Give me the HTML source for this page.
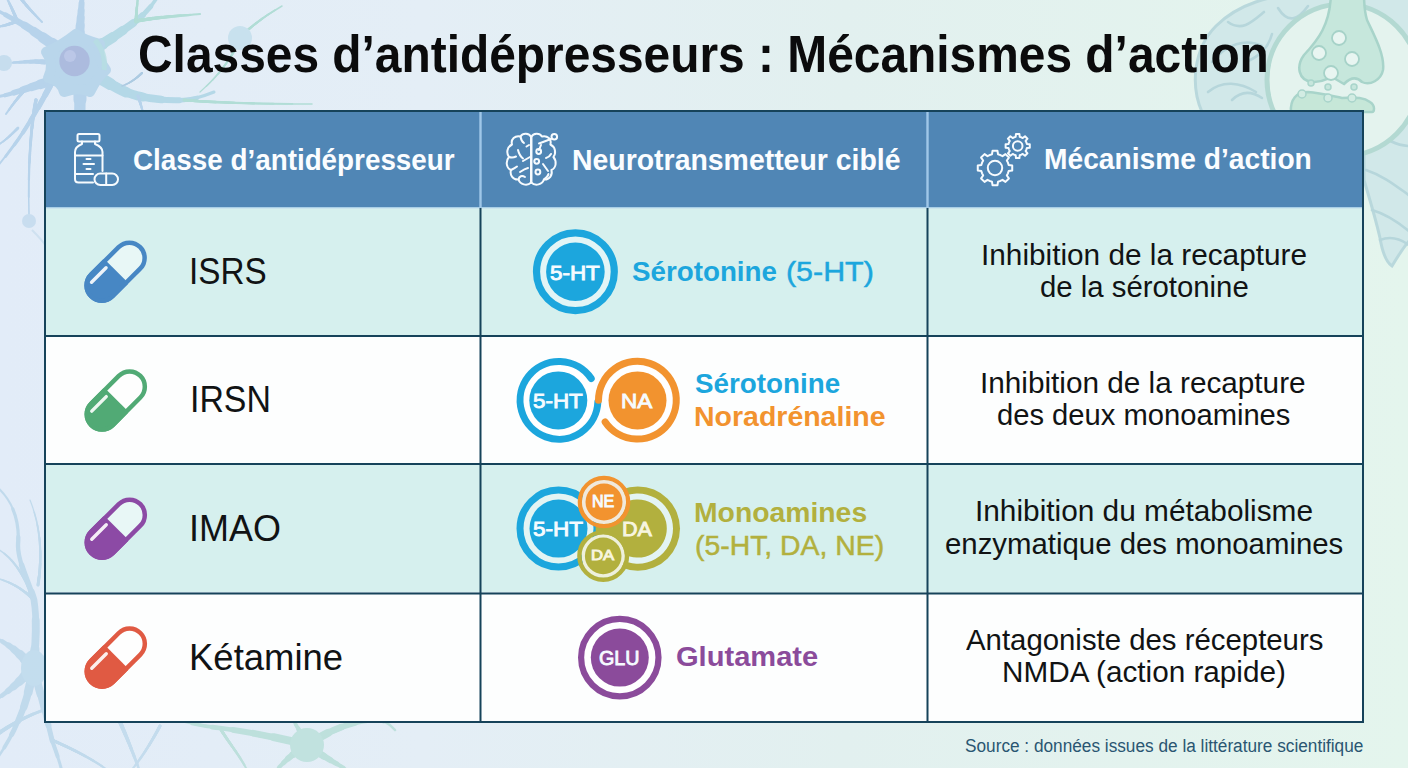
<!DOCTYPE html>
<html><head><meta charset="utf-8">
<style>
html,body{margin:0;padding:0;}
body{width:1408px;height:768px;position:relative;overflow:hidden;
 font-family:"Liberation Sans",sans-serif;
 background:linear-gradient(90deg,#e2ecf8 0%,#e4eef6 30%,#e2f0ef 60%,#e4f5ed 100%);}
.t{position:absolute;white-space:nowrap;line-height:1;transform-origin:0 0;}
.abs{position:absolute;}
</style></head><body>
<svg class="abs" style="left:0;top:0" width="1408" height="768" viewBox="0 0 1408 768">
  <g opacity="0.9"><g fill="none" stroke-linecap="round" stroke-linejoin="round"><path d="M79,45 C80,28 81,14 82,-4" pathLength="100" stroke="#b3d1ea" stroke-width="5.0" opacity="1.0"/><path d="M79,45 C80,28 81,14 82,-4" pathLength="100" stroke="#b3d1ea" stroke-width="6.0" stroke-dasharray="85.0 200" opacity="1.0"/><path d="M79,45 C80,28 81,14 82,-4" pathLength="100" stroke="#b3d1ea" stroke-width="7.0" stroke-dasharray="70.0 200" opacity="1.0"/><path d="M79,45 C80,28 81,14 82,-4" pathLength="100" stroke="#b3d1ea" stroke-width="8.0" stroke-dasharray="55.0 200" opacity="1.0"/><path d="M79,45 C80,28 81,14 82,-4" pathLength="100" stroke="#b3d1ea" stroke-width="9.0" stroke-dasharray="40.0 200" opacity="1.0"/><path d="M79,45 C80,28 81,14 82,-4" pathLength="100" stroke="#b3d1ea" stroke-width="10.0" stroke-dasharray="25.0 200" opacity="1.0"/><path d="M79,45 C80,28 81,14 82,-4" pathLength="100" stroke="#b3d1ea" stroke-width="11.0" stroke-dasharray="10.0 200" opacity="1.0"/><path d="M58,48 C42,37 28,27 17,21 C9,17 3,13 -4,10" pathLength="100" stroke="#b3d1ea" stroke-width="3.5" opacity="1.0"/><path d="M58,48 C42,37 28,27 17,21 C9,17 3,13 -4,10" pathLength="100" stroke="#b3d1ea" stroke-width="4.9" stroke-dasharray="85.0 200" opacity="1.0"/><path d="M58,48 C42,37 28,27 17,21 C9,17 3,13 -4,10" pathLength="100" stroke="#b3d1ea" stroke-width="6.3" stroke-dasharray="70.0 200" opacity="1.0"/><path d="M58,48 C42,37 28,27 17,21 C9,17 3,13 -4,10" pathLength="100" stroke="#b3d1ea" stroke-width="7.8" stroke-dasharray="55.0 200" opacity="1.0"/><path d="M58,48 C42,37 28,27 17,21 C9,17 3,13 -4,10" pathLength="100" stroke="#b3d1ea" stroke-width="9.2" stroke-dasharray="40.0 200" opacity="1.0"/><path d="M58,48 C42,37 28,27 17,21 C9,17 3,13 -4,10" pathLength="100" stroke="#b3d1ea" stroke-width="10.6" stroke-dasharray="25.0 200" opacity="1.0"/><path d="M58,48 C42,37 28,27 17,21 C9,17 3,13 -4,10" pathLength="100" stroke="#b3d1ea" stroke-width="12.0" stroke-dasharray="10.0 200" opacity="1.0"/><path d="M17,21 C14,12 10,5 6,-4" pathLength="100" stroke="#b3d1ea" stroke-width="2.0" opacity="1.0"/><path d="M17,21 C14,12 10,5 6,-4" pathLength="100" stroke="#b3d1ea" stroke-width="2.2" stroke-dasharray="85.0 200" opacity="1.0"/><path d="M17,21 C14,12 10,5 6,-4" pathLength="100" stroke="#b3d1ea" stroke-width="2.5" stroke-dasharray="70.0 200" opacity="1.0"/><path d="M17,21 C14,12 10,5 6,-4" pathLength="100" stroke="#b3d1ea" stroke-width="2.8" stroke-dasharray="55.0 200" opacity="1.0"/><path d="M17,21 C14,12 10,5 6,-4" pathLength="100" stroke="#b3d1ea" stroke-width="3.0" stroke-dasharray="40.0 200" opacity="1.0"/><path d="M17,21 C14,12 10,5 6,-4" pathLength="100" stroke="#b3d1ea" stroke-width="3.2" stroke-dasharray="25.0 200" opacity="1.0"/><path d="M17,21 C14,12 10,5 6,-4" pathLength="100" stroke="#b3d1ea" stroke-width="3.5" stroke-dasharray="10.0 200" opacity="1.0"/><path d="M17,21 C10,24 5,26 -4,27" pathLength="100" stroke="#b3d1ea" stroke-width="2.0" opacity="1.0"/><path d="M17,21 C10,24 5,26 -4,27" pathLength="100" stroke="#b3d1ea" stroke-width="2.2" stroke-dasharray="85.0 200" opacity="1.0"/><path d="M17,21 C10,24 5,26 -4,27" pathLength="100" stroke="#b3d1ea" stroke-width="2.5" stroke-dasharray="70.0 200" opacity="1.0"/><path d="M17,21 C10,24 5,26 -4,27" pathLength="100" stroke="#b3d1ea" stroke-width="2.8" stroke-dasharray="55.0 200" opacity="1.0"/><path d="M17,21 C10,24 5,26 -4,27" pathLength="100" stroke="#b3d1ea" stroke-width="3.0" stroke-dasharray="40.0 200" opacity="1.0"/><path d="M17,21 C10,24 5,26 -4,27" pathLength="100" stroke="#b3d1ea" stroke-width="3.2" stroke-dasharray="25.0 200" opacity="1.0"/><path d="M17,21 C10,24 5,26 -4,27" pathLength="100" stroke="#b3d1ea" stroke-width="3.5" stroke-dasharray="10.0 200" opacity="1.0"/><path d="M22,0 C30,10 36,16 42,22" pathLength="100" stroke="#b3d1ea" stroke-width="2.0" opacity="1.0"/><path d="M22,0 C30,10 36,16 42,22" pathLength="100" stroke="#b3d1ea" stroke-width="2.2" stroke-dasharray="85.0 200" opacity="1.0"/><path d="M22,0 C30,10 36,16 42,22" pathLength="100" stroke="#b3d1ea" stroke-width="2.3" stroke-dasharray="70.0 200" opacity="1.0"/><path d="M22,0 C30,10 36,16 42,22" pathLength="100" stroke="#b3d1ea" stroke-width="2.5" stroke-dasharray="55.0 200" opacity="1.0"/><path d="M22,0 C30,10 36,16 42,22" pathLength="100" stroke="#b3d1ea" stroke-width="2.7" stroke-dasharray="40.0 200" opacity="1.0"/><path d="M22,0 C30,10 36,16 42,22" pathLength="100" stroke="#b3d1ea" stroke-width="2.8" stroke-dasharray="25.0 200" opacity="1.0"/><path d="M22,0 C30,10 36,16 42,22" pathLength="100" stroke="#b3d1ea" stroke-width="3.0" stroke-dasharray="10.0 200" opacity="1.0"/><path d="M95,48 C110,40 124,30 136,21 C146,13 152,6 158,-4" pathLength="100" stroke="#b0d8e4" stroke-width="3.5" opacity="1.0"/><path d="M95,48 C110,40 124,30 136,21 C146,13 152,6 158,-4" pathLength="100" stroke="#b0d8e4" stroke-width="4.9" stroke-dasharray="85.0 200" opacity="1.0"/><path d="M95,48 C110,40 124,30 136,21 C146,13 152,6 158,-4" pathLength="100" stroke="#b0d8e4" stroke-width="6.3" stroke-dasharray="70.0 200" opacity="1.0"/><path d="M95,48 C110,40 124,30 136,21 C146,13 152,6 158,-4" pathLength="100" stroke="#b0d8e4" stroke-width="7.8" stroke-dasharray="55.0 200" opacity="1.0"/><path d="M95,48 C110,40 124,30 136,21 C146,13 152,6 158,-4" pathLength="100" stroke="#b0d8e4" stroke-width="9.2" stroke-dasharray="40.0 200" opacity="1.0"/><path d="M95,48 C110,40 124,30 136,21 C146,13 152,6 158,-4" pathLength="100" stroke="#b0d8e4" stroke-width="10.6" stroke-dasharray="25.0 200" opacity="1.0"/><path d="M95,48 C110,40 124,30 136,21 C146,13 152,6 158,-4" pathLength="100" stroke="#b0d8e4" stroke-width="12.0" stroke-dasharray="10.0 200" opacity="1.0"/><path d="M136,21 C158,17 178,16 200,14" pathLength="100" stroke="#acdcd3" stroke-width="2.2" opacity="1.0"/><path d="M136,21 C158,17 178,16 200,14" pathLength="100" stroke="#acdcd3" stroke-width="2.4" stroke-dasharray="85.0 200" opacity="1.0"/><path d="M136,21 C158,17 178,16 200,14" pathLength="100" stroke="#acdcd3" stroke-width="2.6" stroke-dasharray="70.0 200" opacity="1.0"/><path d="M136,21 C158,17 178,16 200,14" pathLength="100" stroke="#acdcd3" stroke-width="2.9" stroke-dasharray="55.0 200" opacity="1.0"/><path d="M136,21 C158,17 178,16 200,14" pathLength="100" stroke="#acdcd3" stroke-width="3.1" stroke-dasharray="40.0 200" opacity="1.0"/><path d="M136,21 C158,17 178,16 200,14" pathLength="100" stroke="#acdcd3" stroke-width="3.3" stroke-dasharray="25.0 200" opacity="1.0"/><path d="M136,21 C158,17 178,16 200,14" pathLength="100" stroke="#acdcd3" stroke-width="3.5" stroke-dasharray="10.0 200" opacity="1.0"/><path d="M136,22 C136,14 137,7 138,-4" pathLength="100" stroke="#acdcd3" stroke-width="2.0" opacity="1.0"/><path d="M136,22 C136,14 137,7 138,-4" pathLength="100" stroke="#acdcd3" stroke-width="2.2" stroke-dasharray="85.0 200" opacity="1.0"/><path d="M136,22 C136,14 137,7 138,-4" pathLength="100" stroke="#acdcd3" stroke-width="2.3" stroke-dasharray="70.0 200" opacity="1.0"/><path d="M136,22 C136,14 137,7 138,-4" pathLength="100" stroke="#acdcd3" stroke-width="2.5" stroke-dasharray="55.0 200" opacity="1.0"/><path d="M136,22 C136,14 137,7 138,-4" pathLength="100" stroke="#acdcd3" stroke-width="2.7" stroke-dasharray="40.0 200" opacity="1.0"/><path d="M136,22 C136,14 137,7 138,-4" pathLength="100" stroke="#acdcd3" stroke-width="2.8" stroke-dasharray="25.0 200" opacity="1.0"/><path d="M136,22 C136,14 137,7 138,-4" pathLength="100" stroke="#acdcd3" stroke-width="3.0" stroke-dasharray="10.0 200" opacity="1.0"/><path d="M100,78 C112,85 124,93 138,96 C152,99 168,101 184,100 C196,99 204,96 214,92" pathLength="100" stroke="#b0d6e6" stroke-width="3.0" opacity="1.0"/><path d="M100,78 C112,85 124,93 138,96 C152,99 168,101 184,100 C196,99 204,96 214,92" pathLength="100" stroke="#b0d6e6" stroke-width="4.5" stroke-dasharray="85.0 200" opacity="1.0"/><path d="M100,78 C112,85 124,93 138,96 C152,99 168,101 184,100 C196,99 204,96 214,92" pathLength="100" stroke="#b0d6e6" stroke-width="6.0" stroke-dasharray="70.0 200" opacity="1.0"/><path d="M100,78 C112,85 124,93 138,96 C152,99 168,101 184,100 C196,99 204,96 214,92" pathLength="100" stroke="#b0d6e6" stroke-width="7.5" stroke-dasharray="55.0 200" opacity="1.0"/><path d="M100,78 C112,85 124,93 138,96 C152,99 168,101 184,100 C196,99 204,96 214,92" pathLength="100" stroke="#b0d6e6" stroke-width="9.0" stroke-dasharray="40.0 200" opacity="1.0"/><path d="M100,78 C112,85 124,93 138,96 C152,99 168,101 184,100 C196,99 204,96 214,92" pathLength="100" stroke="#b0d6e6" stroke-width="10.5" stroke-dasharray="25.0 200" opacity="1.0"/><path d="M100,78 C112,85 124,93 138,96 C152,99 168,101 184,100 C196,99 204,96 214,92" pathLength="100" stroke="#b0d6e6" stroke-width="12.0" stroke-dasharray="10.0 200" opacity="1.0"/><path d="M184,100 C220,103 262,104 312,104" pathLength="100" stroke="#acdcd3" stroke-width="1.5" opacity="1.0"/><path d="M184,100 C220,103 262,104 312,104" pathLength="100" stroke="#acdcd3" stroke-width="1.7" stroke-dasharray="85.0 200" opacity="1.0"/><path d="M184,100 C220,103 262,104 312,104" pathLength="100" stroke="#acdcd3" stroke-width="1.9" stroke-dasharray="70.0 200" opacity="1.0"/><path d="M184,100 C220,103 262,104 312,104" pathLength="100" stroke="#acdcd3" stroke-width="2.1" stroke-dasharray="55.0 200" opacity="1.0"/><path d="M184,100 C220,103 262,104 312,104" pathLength="100" stroke="#acdcd3" stroke-width="2.4" stroke-dasharray="40.0 200" opacity="1.0"/><path d="M184,100 C220,103 262,104 312,104" pathLength="100" stroke="#acdcd3" stroke-width="2.6" stroke-dasharray="25.0 200" opacity="1.0"/><path d="M184,100 C220,103 262,104 312,104" pathLength="100" stroke="#acdcd3" stroke-width="2.8" stroke-dasharray="10.0 200" opacity="1.0"/><path d="M138,96 C140,101 141,106 143,112" pathLength="100" stroke="#b3d1ea" stroke-width="2.0" opacity="1.0"/><path d="M138,96 C140,101 141,106 143,112" pathLength="100" stroke="#b3d1ea" stroke-width="2.2" stroke-dasharray="85.0 200" opacity="1.0"/><path d="M138,96 C140,101 141,106 143,112" pathLength="100" stroke="#b3d1ea" stroke-width="2.3" stroke-dasharray="70.0 200" opacity="1.0"/><path d="M138,96 C140,101 141,106 143,112" pathLength="100" stroke="#b3d1ea" stroke-width="2.5" stroke-dasharray="55.0 200" opacity="1.0"/><path d="M138,96 C140,101 141,106 143,112" pathLength="100" stroke="#b3d1ea" stroke-width="2.7" stroke-dasharray="40.0 200" opacity="1.0"/><path d="M138,96 C140,101 141,106 143,112" pathLength="100" stroke="#b3d1ea" stroke-width="2.8" stroke-dasharray="25.0 200" opacity="1.0"/><path d="M138,96 C140,101 141,106 143,112" pathLength="100" stroke="#b3d1ea" stroke-width="3.0" stroke-dasharray="10.0 200" opacity="1.0"/><path d="M80,88 C80,102 80,116 79,132 C77,150 68,175 52,200" pathLength="100" stroke="#b3d1ea" stroke-width="3.0" opacity="1.0"/><path d="M80,88 C80,102 80,116 79,132 C77,150 68,175 52,200" pathLength="100" stroke="#b3d1ea" stroke-width="4.7" stroke-dasharray="85.0 200" opacity="1.0"/><path d="M80,88 C80,102 80,116 79,132 C77,150 68,175 52,200" pathLength="100" stroke="#b3d1ea" stroke-width="6.3" stroke-dasharray="70.0 200" opacity="1.0"/><path d="M80,88 C80,102 80,116 79,132 C77,150 68,175 52,200" pathLength="100" stroke="#b3d1ea" stroke-width="8.0" stroke-dasharray="55.0 200" opacity="1.0"/><path d="M80,88 C80,102 80,116 79,132 C77,150 68,175 52,200" pathLength="100" stroke="#b3d1ea" stroke-width="9.7" stroke-dasharray="40.0 200" opacity="1.0"/><path d="M80,88 C80,102 80,116 79,132 C77,150 68,175 52,200" pathLength="100" stroke="#b3d1ea" stroke-width="11.3" stroke-dasharray="25.0 200" opacity="1.0"/><path d="M80,88 C80,102 80,116 79,132 C77,150 68,175 52,200" pathLength="100" stroke="#b3d1ea" stroke-width="13.0" stroke-dasharray="10.0 200" opacity="1.0"/><path d="M55,80 C40,84 26,89 13,93 C7,95 2,96 -4,97" pathLength="100" stroke="#b3d1ea" stroke-width="3.0" opacity="1.0"/><path d="M55,80 C40,84 26,89 13,93 C7,95 2,96 -4,97" pathLength="100" stroke="#b3d1ea" stroke-width="4.3" stroke-dasharray="85.0 200" opacity="1.0"/><path d="M55,80 C40,84 26,89 13,93 C7,95 2,96 -4,97" pathLength="100" stroke="#b3d1ea" stroke-width="5.7" stroke-dasharray="70.0 200" opacity="1.0"/><path d="M55,80 C40,84 26,89 13,93 C7,95 2,96 -4,97" pathLength="100" stroke="#b3d1ea" stroke-width="7.0" stroke-dasharray="55.0 200" opacity="1.0"/><path d="M55,80 C40,84 26,89 13,93 C7,95 2,96 -4,97" pathLength="100" stroke="#b3d1ea" stroke-width="8.3" stroke-dasharray="40.0 200" opacity="1.0"/><path d="M55,80 C40,84 26,89 13,93 C7,95 2,96 -4,97" pathLength="100" stroke="#b3d1ea" stroke-width="9.7" stroke-dasharray="25.0 200" opacity="1.0"/><path d="M55,80 C40,84 26,89 13,93 C7,95 2,96 -4,97" pathLength="100" stroke="#b3d1ea" stroke-width="11.0" stroke-dasharray="10.0 200" opacity="1.0"/><path d="M26,89 C19,96 13,104 6,114" pathLength="100" stroke="#b3d1ea" stroke-width="2.0" opacity="1.0"/><path d="M26,89 C19,96 13,104 6,114" pathLength="100" stroke="#b3d1ea" stroke-width="2.2" stroke-dasharray="85.0 200" opacity="1.0"/><path d="M26,89 C19,96 13,104 6,114" pathLength="100" stroke="#b3d1ea" stroke-width="2.3" stroke-dasharray="70.0 200" opacity="1.0"/><path d="M26,89 C19,96 13,104 6,114" pathLength="100" stroke="#b3d1ea" stroke-width="2.5" stroke-dasharray="55.0 200" opacity="1.0"/><path d="M26,89 C19,96 13,104 6,114" pathLength="100" stroke="#b3d1ea" stroke-width="2.7" stroke-dasharray="40.0 200" opacity="1.0"/><path d="M26,89 C19,96 13,104 6,114" pathLength="100" stroke="#b3d1ea" stroke-width="2.8" stroke-dasharray="25.0 200" opacity="1.0"/><path d="M26,89 C19,96 13,104 6,114" pathLength="100" stroke="#b3d1ea" stroke-width="3.0" stroke-dasharray="10.0 200" opacity="1.0"/><path d="M45,62 C33,61 22,62 8,63" pathLength="100" stroke="#b3d1ea" stroke-width="2.0" opacity="1.0"/><path d="M45,62 C33,61 22,62 8,63" pathLength="100" stroke="#b3d1ea" stroke-width="2.5" stroke-dasharray="85.0 200" opacity="1.0"/><path d="M45,62 C33,61 22,62 8,63" pathLength="100" stroke="#b3d1ea" stroke-width="3.0" stroke-dasharray="70.0 200" opacity="1.0"/><path d="M45,62 C33,61 22,62 8,63" pathLength="100" stroke="#b3d1ea" stroke-width="3.5" stroke-dasharray="55.0 200" opacity="1.0"/><path d="M45,62 C33,61 22,62 8,63" pathLength="100" stroke="#b3d1ea" stroke-width="4.0" stroke-dasharray="40.0 200" opacity="1.0"/><path d="M45,62 C33,61 22,62 8,63" pathLength="100" stroke="#b3d1ea" stroke-width="4.5" stroke-dasharray="25.0 200" opacity="1.0"/><path d="M45,62 C33,61 22,62 8,63" pathLength="100" stroke="#b3d1ea" stroke-width="5.0" stroke-dasharray="10.0 200" opacity="1.0"/><path d="M142,73 C135,80 128,84 122,86" pathLength="100" stroke="#a8c8e0" stroke-width="1.5" opacity="1.0"/><path d="M142,73 C135,80 128,84 122,86" pathLength="100" stroke="#a8c8e0" stroke-width="1.6" stroke-dasharray="85.0 200" opacity="1.0"/><path d="M142,73 C135,80 128,84 122,86" pathLength="100" stroke="#a8c8e0" stroke-width="1.7" stroke-dasharray="70.0 200" opacity="1.0"/><path d="M142,73 C135,80 128,84 122,86" pathLength="100" stroke="#a8c8e0" stroke-width="1.8" stroke-dasharray="55.0 200" opacity="1.0"/><path d="M142,73 C135,80 128,84 122,86" pathLength="100" stroke="#a8c8e0" stroke-width="1.8" stroke-dasharray="40.0 200" opacity="1.0"/><path d="M142,73 C135,80 128,84 122,86" pathLength="100" stroke="#a8c8e0" stroke-width="1.9" stroke-dasharray="25.0 200" opacity="1.0"/><path d="M142,73 C135,80 128,84 122,86" pathLength="100" stroke="#a8c8e0" stroke-width="2.0" stroke-dasharray="10.0 200" opacity="1.0"/><path d="M50,86 C36,112 22,138 -4,168" pathLength="100" stroke="#b3d1ea" stroke-width="2.0" opacity="1.0"/><path d="M50,86 C36,112 22,138 -4,168" pathLength="100" stroke="#b3d1ea" stroke-width="2.7" stroke-dasharray="85.0 200" opacity="1.0"/><path d="M50,86 C36,112 22,138 -4,168" pathLength="100" stroke="#b3d1ea" stroke-width="3.3" stroke-dasharray="70.0 200" opacity="1.0"/><path d="M50,86 C36,112 22,138 -4,168" pathLength="100" stroke="#b3d1ea" stroke-width="4.0" stroke-dasharray="55.0 200" opacity="1.0"/><path d="M50,86 C36,112 22,138 -4,168" pathLength="100" stroke="#b3d1ea" stroke-width="4.7" stroke-dasharray="40.0 200" opacity="1.0"/><path d="M50,86 C36,112 22,138 -4,168" pathLength="100" stroke="#b3d1ea" stroke-width="5.3" stroke-dasharray="25.0 200" opacity="1.0"/><path d="M50,86 C36,112 22,138 -4,168" pathLength="100" stroke="#b3d1ea" stroke-width="6.0" stroke-dasharray="10.0 200" opacity="1.0"/><path d="M36,100 C30,130 28,175 29,214" pathLength="100" stroke="#b3d1ea" stroke-width="1.5" opacity="1.0"/><path d="M36,100 C30,130 28,175 29,214" pathLength="100" stroke="#b3d1ea" stroke-width="1.8" stroke-dasharray="85.0 200" opacity="1.0"/><path d="M36,100 C30,130 28,175 29,214" pathLength="100" stroke="#b3d1ea" stroke-width="2.2" stroke-dasharray="70.0 200" opacity="1.0"/><path d="M36,100 C30,130 28,175 29,214" pathLength="100" stroke="#b3d1ea" stroke-width="2.5" stroke-dasharray="55.0 200" opacity="1.0"/><path d="M36,100 C30,130 28,175 29,214" pathLength="100" stroke="#b3d1ea" stroke-width="2.8" stroke-dasharray="40.0 200" opacity="1.0"/><path d="M36,100 C30,130 28,175 29,214" pathLength="100" stroke="#b3d1ea" stroke-width="3.2" stroke-dasharray="25.0 200" opacity="1.0"/><path d="M36,100 C30,130 28,175 29,214" pathLength="100" stroke="#b3d1ea" stroke-width="3.5" stroke-dasharray="10.0 200" opacity="1.0"/><path d="M18,128 C10,136 4,142 -4,146" pathLength="100" stroke="#b3d1ea" stroke-width="1.5" opacity="1.0"/><path d="M18,128 C10,136 4,142 -4,146" pathLength="100" stroke="#b3d1ea" stroke-width="1.7" stroke-dasharray="85.0 200" opacity="1.0"/><path d="M18,128 C10,136 4,142 -4,146" pathLength="100" stroke="#b3d1ea" stroke-width="1.8" stroke-dasharray="70.0 200" opacity="1.0"/><path d="M18,128 C10,136 4,142 -4,146" pathLength="100" stroke="#b3d1ea" stroke-width="2.0" stroke-dasharray="55.0 200" opacity="1.0"/><path d="M18,128 C10,136 4,142 -4,146" pathLength="100" stroke="#b3d1ea" stroke-width="2.2" stroke-dasharray="40.0 200" opacity="1.0"/><path d="M18,128 C10,136 4,142 -4,146" pathLength="100" stroke="#b3d1ea" stroke-width="2.3" stroke-dasharray="25.0 200" opacity="1.0"/><path d="M18,128 C10,136 4,142 -4,146" pathLength="100" stroke="#b3d1ea" stroke-width="2.5" stroke-dasharray="10.0 200" opacity="1.0"/><path d="M241,36 C252,26 264,16 282,6" pathLength="100" stroke="#acdcd3" stroke-width="1.5" opacity="1.0"/><path d="M241,36 C252,26 264,16 282,6" pathLength="100" stroke="#acdcd3" stroke-width="1.7" stroke-dasharray="85.0 200" opacity="1.0"/><path d="M241,36 C252,26 264,16 282,6" pathLength="100" stroke="#acdcd3" stroke-width="1.8" stroke-dasharray="70.0 200" opacity="1.0"/><path d="M241,36 C252,26 264,16 282,6" pathLength="100" stroke="#acdcd3" stroke-width="2.0" stroke-dasharray="55.0 200" opacity="1.0"/><path d="M241,36 C252,26 264,16 282,6" pathLength="100" stroke="#acdcd3" stroke-width="2.2" stroke-dasharray="40.0 200" opacity="1.0"/><path d="M241,36 C252,26 264,16 282,6" pathLength="100" stroke="#acdcd3" stroke-width="2.3" stroke-dasharray="25.0 200" opacity="1.0"/><path d="M241,36 C252,26 264,16 282,6" pathLength="100" stroke="#acdcd3" stroke-width="2.5" stroke-dasharray="10.0 200" opacity="1.0"/><path d="M236,48 C226,66 214,80 200,92" pathLength="100" stroke="#acdcd3" stroke-width="1.2" opacity="1.0"/><path d="M236,48 C226,66 214,80 200,92" pathLength="100" stroke="#acdcd3" stroke-width="1.4" stroke-dasharray="85.0 200" opacity="1.0"/><path d="M236,48 C226,66 214,80 200,92" pathLength="100" stroke="#acdcd3" stroke-width="1.5" stroke-dasharray="70.0 200" opacity="1.0"/><path d="M236,48 C226,66 214,80 200,92" pathLength="100" stroke="#acdcd3" stroke-width="1.7" stroke-dasharray="55.0 200" opacity="1.0"/><path d="M236,48 C226,66 214,80 200,92" pathLength="100" stroke="#acdcd3" stroke-width="1.9" stroke-dasharray="40.0 200" opacity="1.0"/><path d="M236,48 C226,66 214,80 200,92" pathLength="100" stroke="#acdcd3" stroke-width="2.0" stroke-dasharray="25.0 200" opacity="1.0"/><path d="M236,48 C226,66 214,80 200,92" pathLength="100" stroke="#acdcd3" stroke-width="2.2" stroke-dasharray="10.0 200" opacity="1.0"/></g><path d="M76,34 C84,40 92,42 100,44 C98,52 100,62 106,70 C98,76 94,84 90,92 C82,88 74,88 64,92 C62,84 56,80 48,78 C52,70 52,60 46,52 C56,48 66,42 76,34 Z" fill="#b5d4ea" stroke="#b5d4ea" stroke-width="10" stroke-linejoin="round"/><path d="M95,40 C102,48 106,58 104,70" fill="none" stroke="#b3dde0" stroke-width="5" opacity="0.8"/><circle cx="74.5" cy="61" r="15.2" fill="#a7b6dc"/><circle cx="70" cy="56" r="6" fill="#bec9ea" opacity="0.7"/><circle cx="4" cy="63" r="8" fill="#c3dcee"/><circle cx="240" cy="38" r="12" fill="#c6e0ee"/><circle cx="29" cy="221" r="7" fill="#c6dcef"/><path d="M32,230 C38,236 42,240 46,246" fill="none" stroke="#cde0f0" stroke-width="2"/></g><g opacity="0.7"><g fill="none" stroke-linecap="round" stroke-linejoin="round"><path d="M33,668 C36,645 37,620 34,600 C28,580 18,562 18,545 C20,520 12,500 -4,486" pathLength="100" stroke="#b3d3e8" stroke-width="2.0" opacity="1.0"/><path d="M33,668 C36,645 37,620 34,600 C28,580 18,562 18,545 C20,520 12,500 -4,486" pathLength="100" stroke="#b3d3e8" stroke-width="3.2" stroke-dasharray="85.0 200" opacity="1.0"/><path d="M33,668 C36,645 37,620 34,600 C28,580 18,562 18,545 C20,520 12,500 -4,486" pathLength="100" stroke="#b3d3e8" stroke-width="4.3" stroke-dasharray="70.0 200" opacity="1.0"/><path d="M33,668 C36,645 37,620 34,600 C28,580 18,562 18,545 C20,520 12,500 -4,486" pathLength="100" stroke="#b3d3e8" stroke-width="5.5" stroke-dasharray="55.0 200" opacity="1.0"/><path d="M33,668 C36,645 37,620 34,600 C28,580 18,562 18,545 C20,520 12,500 -4,486" pathLength="100" stroke="#b3d3e8" stroke-width="6.7" stroke-dasharray="40.0 200" opacity="1.0"/><path d="M33,668 C36,645 37,620 34,600 C28,580 18,562 18,545 C20,520 12,500 -4,486" pathLength="100" stroke="#b3d3e8" stroke-width="7.8" stroke-dasharray="25.0 200" opacity="1.0"/><path d="M33,668 C36,645 37,620 34,600 C28,580 18,562 18,545 C20,520 12,500 -4,486" pathLength="100" stroke="#b3d3e8" stroke-width="9.0" stroke-dasharray="10.0 200" opacity="1.0"/><path d="M34,600 C24,575 14,558 -4,548" pathLength="100" stroke="#b3d3e8" stroke-width="1.5" opacity="1.0"/><path d="M34,600 C24,575 14,558 -4,548" pathLength="100" stroke="#b3d3e8" stroke-width="1.8" stroke-dasharray="85.0 200" opacity="1.0"/><path d="M34,600 C24,575 14,558 -4,548" pathLength="100" stroke="#b3d3e8" stroke-width="2.0" stroke-dasharray="70.0 200" opacity="1.0"/><path d="M34,600 C24,575 14,558 -4,548" pathLength="100" stroke="#b3d3e8" stroke-width="2.2" stroke-dasharray="55.0 200" opacity="1.0"/><path d="M34,600 C24,575 14,558 -4,548" pathLength="100" stroke="#b3d3e8" stroke-width="2.5" stroke-dasharray="40.0 200" opacity="1.0"/><path d="M34,600 C24,575 14,558 -4,548" pathLength="100" stroke="#b3d3e8" stroke-width="2.8" stroke-dasharray="25.0 200" opacity="1.0"/><path d="M34,600 C24,575 14,558 -4,548" pathLength="100" stroke="#b3d3e8" stroke-width="3.0" stroke-dasharray="10.0 200" opacity="1.0"/><path d="M34,600 C24,590 12,582 -4,578" pathLength="100" stroke="#b3d3e8" stroke-width="1.5" opacity="1.0"/><path d="M34,600 C24,590 12,582 -4,578" pathLength="100" stroke="#b3d3e8" stroke-width="1.8" stroke-dasharray="85.0 200" opacity="1.0"/><path d="M34,600 C24,590 12,582 -4,578" pathLength="100" stroke="#b3d3e8" stroke-width="2.0" stroke-dasharray="70.0 200" opacity="1.0"/><path d="M34,600 C24,590 12,582 -4,578" pathLength="100" stroke="#b3d3e8" stroke-width="2.2" stroke-dasharray="55.0 200" opacity="1.0"/><path d="M34,600 C24,590 12,582 -4,578" pathLength="100" stroke="#b3d3e8" stroke-width="2.5" stroke-dasharray="40.0 200" opacity="1.0"/><path d="M34,600 C24,590 12,582 -4,578" pathLength="100" stroke="#b3d3e8" stroke-width="2.8" stroke-dasharray="25.0 200" opacity="1.0"/><path d="M34,600 C24,590 12,582 -4,578" pathLength="100" stroke="#b3d3e8" stroke-width="3.0" stroke-dasharray="10.0 200" opacity="1.0"/><path d="M38,585 C42,560 42,530 30,500" pathLength="100" stroke="#b3d3e8" stroke-width="1.2" opacity="1.0"/><path d="M38,585 C42,560 42,530 30,500" pathLength="100" stroke="#b3d3e8" stroke-width="1.5" stroke-dasharray="85.0 200" opacity="1.0"/><path d="M38,585 C42,560 42,530 30,500" pathLength="100" stroke="#b3d3e8" stroke-width="1.8" stroke-dasharray="70.0 200" opacity="1.0"/><path d="M38,585 C42,560 42,530 30,500" pathLength="100" stroke="#b3d3e8" stroke-width="2.1" stroke-dasharray="55.0 200" opacity="1.0"/><path d="M38,585 C42,560 42,530 30,500" pathLength="100" stroke="#b3d3e8" stroke-width="2.4" stroke-dasharray="40.0 200" opacity="1.0"/><path d="M38,585 C42,560 42,530 30,500" pathLength="100" stroke="#b3d3e8" stroke-width="2.7" stroke-dasharray="25.0 200" opacity="1.0"/><path d="M38,585 C42,560 42,530 30,500" pathLength="100" stroke="#b3d3e8" stroke-width="3.0" stroke-dasharray="10.0 200" opacity="1.0"/><path d="M33,668 C22,655 10,645 -4,638" pathLength="100" stroke="#b3d3e8" stroke-width="3.0" opacity="1.0"/><path d="M33,668 C22,655 10,645 -4,638" pathLength="100" stroke="#b3d3e8" stroke-width="4.5" stroke-dasharray="85.0 200" opacity="1.0"/><path d="M33,668 C22,655 10,645 -4,638" pathLength="100" stroke="#b3d3e8" stroke-width="6.0" stroke-dasharray="70.0 200" opacity="1.0"/><path d="M33,668 C22,655 10,645 -4,638" pathLength="100" stroke="#b3d3e8" stroke-width="7.5" stroke-dasharray="55.0 200" opacity="1.0"/><path d="M33,668 C22,655 10,645 -4,638" pathLength="100" stroke="#b3d3e8" stroke-width="9.0" stroke-dasharray="40.0 200" opacity="1.0"/><path d="M33,668 C22,655 10,645 -4,638" pathLength="100" stroke="#b3d3e8" stroke-width="10.5" stroke-dasharray="25.0 200" opacity="1.0"/><path d="M33,668 C22,655 10,645 -4,638" pathLength="100" stroke="#b3d3e8" stroke-width="12.0" stroke-dasharray="10.0 200" opacity="1.0"/><path d="M33,668 C22,680 10,690 -4,700" pathLength="100" stroke="#b3d3e8" stroke-width="3.0" opacity="1.0"/><path d="M33,668 C22,680 10,690 -4,700" pathLength="100" stroke="#b3d3e8" stroke-width="4.5" stroke-dasharray="85.0 200" opacity="1.0"/><path d="M33,668 C22,680 10,690 -4,700" pathLength="100" stroke="#b3d3e8" stroke-width="6.0" stroke-dasharray="70.0 200" opacity="1.0"/><path d="M33,668 C22,680 10,690 -4,700" pathLength="100" stroke="#b3d3e8" stroke-width="7.5" stroke-dasharray="55.0 200" opacity="1.0"/><path d="M33,668 C22,680 10,690 -4,700" pathLength="100" stroke="#b3d3e8" stroke-width="9.0" stroke-dasharray="40.0 200" opacity="1.0"/><path d="M33,668 C22,680 10,690 -4,700" pathLength="100" stroke="#b3d3e8" stroke-width="10.5" stroke-dasharray="25.0 200" opacity="1.0"/><path d="M33,668 C22,680 10,690 -4,700" pathLength="100" stroke="#b3d3e8" stroke-width="12.0" stroke-dasharray="10.0 200" opacity="1.0"/><path d="M33,668 C30,690 24,710 14,730 C8,742 2,752 -4,760" pathLength="100" stroke="#b3d3e8" stroke-width="2.5" opacity="1.0"/><path d="M33,668 C30,690 24,710 14,730 C8,742 2,752 -4,760" pathLength="100" stroke="#b3d3e8" stroke-width="3.8" stroke-dasharray="85.0 200" opacity="1.0"/><path d="M33,668 C30,690 24,710 14,730 C8,742 2,752 -4,760" pathLength="100" stroke="#b3d3e8" stroke-width="5.0" stroke-dasharray="70.0 200" opacity="1.0"/><path d="M33,668 C30,690 24,710 14,730 C8,742 2,752 -4,760" pathLength="100" stroke="#b3d3e8" stroke-width="6.2" stroke-dasharray="55.0 200" opacity="1.0"/><path d="M33,668 C30,690 24,710 14,730 C8,742 2,752 -4,760" pathLength="100" stroke="#b3d3e8" stroke-width="7.5" stroke-dasharray="40.0 200" opacity="1.0"/><path d="M33,668 C30,690 24,710 14,730 C8,742 2,752 -4,760" pathLength="100" stroke="#b3d3e8" stroke-width="8.8" stroke-dasharray="25.0 200" opacity="1.0"/><path d="M33,668 C30,690 24,710 14,730 C8,742 2,752 -4,760" pathLength="100" stroke="#b3d3e8" stroke-width="10.0" stroke-dasharray="10.0 200" opacity="1.0"/><path d="M33,668 C40,690 46,715 52,740 C56,752 60,762 62,772" pathLength="100" stroke="#b3d3e8" stroke-width="3.0" opacity="1.0"/><path d="M33,668 C40,690 46,715 52,740 C56,752 60,762 62,772" pathLength="100" stroke="#b3d3e8" stroke-width="4.0" stroke-dasharray="85.0 200" opacity="1.0"/><path d="M33,668 C40,690 46,715 52,740 C56,752 60,762 62,772" pathLength="100" stroke="#b3d3e8" stroke-width="5.0" stroke-dasharray="70.0 200" opacity="1.0"/><path d="M33,668 C40,690 46,715 52,740 C56,752 60,762 62,772" pathLength="100" stroke="#b3d3e8" stroke-width="6.0" stroke-dasharray="55.0 200" opacity="1.0"/><path d="M33,668 C40,690 46,715 52,740 C56,752 60,762 62,772" pathLength="100" stroke="#b3d3e8" stroke-width="7.0" stroke-dasharray="40.0 200" opacity="1.0"/><path d="M33,668 C40,690 46,715 52,740 C56,752 60,762 62,772" pathLength="100" stroke="#b3d3e8" stroke-width="8.0" stroke-dasharray="25.0 200" opacity="1.0"/><path d="M33,668 C40,690 46,715 52,740 C56,752 60,762 62,772" pathLength="100" stroke="#b3d3e8" stroke-width="9.0" stroke-dasharray="10.0 200" opacity="1.0"/><path d="M-4,735 C15,722 30,714 50,708" pathLength="100" stroke="#b3d3e8" stroke-width="2.5" opacity="1.0"/><path d="M-4,735 C15,722 30,714 50,708" pathLength="100" stroke="#b3d3e8" stroke-width="2.8" stroke-dasharray="85.0 200" opacity="1.0"/><path d="M-4,735 C15,722 30,714 50,708" pathLength="100" stroke="#b3d3e8" stroke-width="3.0" stroke-dasharray="70.0 200" opacity="1.0"/><path d="M-4,735 C15,722 30,714 50,708" pathLength="100" stroke="#b3d3e8" stroke-width="3.2" stroke-dasharray="55.0 200" opacity="1.0"/><path d="M-4,735 C15,722 30,714 50,708" pathLength="100" stroke="#b3d3e8" stroke-width="3.5" stroke-dasharray="40.0 200" opacity="1.0"/><path d="M-4,735 C15,722 30,714 50,708" pathLength="100" stroke="#b3d3e8" stroke-width="3.8" stroke-dasharray="25.0 200" opacity="1.0"/><path d="M-4,735 C15,722 30,714 50,708" pathLength="100" stroke="#b3d3e8" stroke-width="4.0" stroke-dasharray="10.0 200" opacity="1.0"/><path d="M52,740 C70,748 92,758 110,772" pathLength="100" stroke="#b3d3e8" stroke-width="2.0" opacity="1.0"/><path d="M52,740 C70,748 92,758 110,772" pathLength="100" stroke="#b3d3e8" stroke-width="2.2" stroke-dasharray="85.0 200" opacity="1.0"/><path d="M52,740 C70,748 92,758 110,772" pathLength="100" stroke="#b3d3e8" stroke-width="2.3" stroke-dasharray="70.0 200" opacity="1.0"/><path d="M52,740 C70,748 92,758 110,772" pathLength="100" stroke="#b3d3e8" stroke-width="2.5" stroke-dasharray="55.0 200" opacity="1.0"/><path d="M52,740 C70,748 92,758 110,772" pathLength="100" stroke="#b3d3e8" stroke-width="2.7" stroke-dasharray="40.0 200" opacity="1.0"/><path d="M52,740 C70,748 92,758 110,772" pathLength="100" stroke="#b3d3e8" stroke-width="2.8" stroke-dasharray="25.0 200" opacity="1.0"/><path d="M52,740 C70,748 92,758 110,772" pathLength="100" stroke="#b3d3e8" stroke-width="3.0" stroke-dasharray="10.0 200" opacity="1.0"/></g><ellipse cx="34" cy="668" rx="13" ry="18" fill="#b6d7ea"/><g fill="none" stroke-linecap="round" stroke-linejoin="round"><path d="M307,745 C280,738 250,732 220,728 C200,726 185,722 172,718" pathLength="100" stroke="#aedbd2" stroke-width="2.5" opacity="1.0"/><path d="M307,745 C280,738 250,732 220,728 C200,726 185,722 172,718" pathLength="100" stroke="#aedbd2" stroke-width="3.6" stroke-dasharray="85.0 200" opacity="1.0"/><path d="M307,745 C280,738 250,732 220,728 C200,726 185,722 172,718" pathLength="100" stroke="#aedbd2" stroke-width="4.7" stroke-dasharray="70.0 200" opacity="1.0"/><path d="M307,745 C280,738 250,732 220,728 C200,726 185,722 172,718" pathLength="100" stroke="#aedbd2" stroke-width="5.8" stroke-dasharray="55.0 200" opacity="1.0"/><path d="M307,745 C280,738 250,732 220,728 C200,726 185,722 172,718" pathLength="100" stroke="#aedbd2" stroke-width="6.8" stroke-dasharray="40.0 200" opacity="1.0"/><path d="M307,745 C280,738 250,732 220,728 C200,726 185,722 172,718" pathLength="100" stroke="#aedbd2" stroke-width="7.9" stroke-dasharray="25.0 200" opacity="1.0"/><path d="M307,745 C280,738 250,732 220,728 C200,726 185,722 172,718" pathLength="100" stroke="#aedbd2" stroke-width="9.0" stroke-dasharray="10.0 200" opacity="1.0"/><path d="M307,745 C330,730 350,722 372,720 C382,719 390,724 395,730" pathLength="100" stroke="#aedbd2" stroke-width="2.5" opacity="1.0"/><path d="M307,745 C330,730 350,722 372,720 C382,719 390,724 395,730" pathLength="100" stroke="#aedbd2" stroke-width="3.6" stroke-dasharray="85.0 200" opacity="1.0"/><path d="M307,745 C330,730 350,722 372,720 C382,719 390,724 395,730" pathLength="100" stroke="#aedbd2" stroke-width="4.7" stroke-dasharray="70.0 200" opacity="1.0"/><path d="M307,745 C330,730 350,722 372,720 C382,719 390,724 395,730" pathLength="100" stroke="#aedbd2" stroke-width="5.8" stroke-dasharray="55.0 200" opacity="1.0"/><path d="M307,745 C330,730 350,722 372,720 C382,719 390,724 395,730" pathLength="100" stroke="#aedbd2" stroke-width="6.8" stroke-dasharray="40.0 200" opacity="1.0"/><path d="M307,745 C330,730 350,722 372,720 C382,719 390,724 395,730" pathLength="100" stroke="#aedbd2" stroke-width="7.9" stroke-dasharray="25.0 200" opacity="1.0"/><path d="M307,745 C330,730 350,722 372,720 C382,719 390,724 395,730" pathLength="100" stroke="#aedbd2" stroke-width="9.0" stroke-dasharray="10.0 200" opacity="1.0"/><path d="M307,745 C320,755 335,762 350,772" pathLength="100" stroke="#aedbd2" stroke-width="3.0" opacity="1.0"/><path d="M307,745 C320,755 335,762 350,772" pathLength="100" stroke="#aedbd2" stroke-width="4.0" stroke-dasharray="85.0 200" opacity="1.0"/><path d="M307,745 C320,755 335,762 350,772" pathLength="100" stroke="#aedbd2" stroke-width="5.0" stroke-dasharray="70.0 200" opacity="1.0"/><path d="M307,745 C320,755 335,762 350,772" pathLength="100" stroke="#aedbd2" stroke-width="6.0" stroke-dasharray="55.0 200" opacity="1.0"/><path d="M307,745 C320,755 335,762 350,772" pathLength="100" stroke="#aedbd2" stroke-width="7.0" stroke-dasharray="40.0 200" opacity="1.0"/><path d="M307,745 C320,755 335,762 350,772" pathLength="100" stroke="#aedbd2" stroke-width="8.0" stroke-dasharray="25.0 200" opacity="1.0"/><path d="M307,745 C320,755 335,762 350,772" pathLength="100" stroke="#aedbd2" stroke-width="9.0" stroke-dasharray="10.0 200" opacity="1.0"/><path d="M307,745 C295,752 285,760 275,772" pathLength="100" stroke="#aedbd2" stroke-width="3.0" opacity="1.0"/><path d="M307,745 C295,752 285,760 275,772" pathLength="100" stroke="#aedbd2" stroke-width="4.0" stroke-dasharray="85.0 200" opacity="1.0"/><path d="M307,745 C295,752 285,760 275,772" pathLength="100" stroke="#aedbd2" stroke-width="5.0" stroke-dasharray="70.0 200" opacity="1.0"/><path d="M307,745 C295,752 285,760 275,772" pathLength="100" stroke="#aedbd2" stroke-width="6.0" stroke-dasharray="55.0 200" opacity="1.0"/><path d="M307,745 C295,752 285,760 275,772" pathLength="100" stroke="#aedbd2" stroke-width="7.0" stroke-dasharray="40.0 200" opacity="1.0"/><path d="M307,745 C295,752 285,760 275,772" pathLength="100" stroke="#aedbd2" stroke-width="8.0" stroke-dasharray="25.0 200" opacity="1.0"/><path d="M307,745 C295,752 285,760 275,772" pathLength="100" stroke="#aedbd2" stroke-width="9.0" stroke-dasharray="10.0 200" opacity="1.0"/><path d="M307,745 C300,732 296,724 290,716" pathLength="100" stroke="#aedbd2" stroke-width="2.0" opacity="1.0"/><path d="M307,745 C300,732 296,724 290,716" pathLength="100" stroke="#aedbd2" stroke-width="2.8" stroke-dasharray="85.0 200" opacity="1.0"/><path d="M307,745 C300,732 296,724 290,716" pathLength="100" stroke="#aedbd2" stroke-width="3.7" stroke-dasharray="70.0 200" opacity="1.0"/><path d="M307,745 C300,732 296,724 290,716" pathLength="100" stroke="#aedbd2" stroke-width="4.5" stroke-dasharray="55.0 200" opacity="1.0"/><path d="M307,745 C300,732 296,724 290,716" pathLength="100" stroke="#aedbd2" stroke-width="5.3" stroke-dasharray="40.0 200" opacity="1.0"/><path d="M307,745 C300,732 296,724 290,716" pathLength="100" stroke="#aedbd2" stroke-width="6.2" stroke-dasharray="25.0 200" opacity="1.0"/><path d="M307,745 C300,732 296,724 290,716" pathLength="100" stroke="#aedbd2" stroke-width="7.0" stroke-dasharray="10.0 200" opacity="1.0"/><path d="M220,728 C230,745 240,755 248,772" pathLength="100" stroke="#aedbd2" stroke-width="2.0" opacity="1.0"/><path d="M220,728 C230,745 240,755 248,772" pathLength="100" stroke="#aedbd2" stroke-width="2.2" stroke-dasharray="85.0 200" opacity="1.0"/><path d="M220,728 C230,745 240,755 248,772" pathLength="100" stroke="#aedbd2" stroke-width="2.3" stroke-dasharray="70.0 200" opacity="1.0"/><path d="M220,728 C230,745 240,755 248,772" pathLength="100" stroke="#aedbd2" stroke-width="2.5" stroke-dasharray="55.0 200" opacity="1.0"/><path d="M220,728 C230,745 240,755 248,772" pathLength="100" stroke="#aedbd2" stroke-width="2.7" stroke-dasharray="40.0 200" opacity="1.0"/><path d="M220,728 C230,745 240,755 248,772" pathLength="100" stroke="#aedbd2" stroke-width="2.8" stroke-dasharray="25.0 200" opacity="1.0"/><path d="M220,728 C230,745 240,755 248,772" pathLength="100" stroke="#aedbd2" stroke-width="3.0" stroke-dasharray="10.0 200" opacity="1.0"/><path d="M120,722 C128,740 134,755 140,772" pathLength="100" stroke="#b8d6ea" stroke-width="2.5" opacity="1.0"/><path d="M120,722 C128,740 134,755 140,772" pathLength="100" stroke="#b8d6ea" stroke-width="2.8" stroke-dasharray="85.0 200" opacity="1.0"/><path d="M120,722 C128,740 134,755 140,772" pathLength="100" stroke="#b8d6ea" stroke-width="3.0" stroke-dasharray="70.0 200" opacity="1.0"/><path d="M120,722 C128,740 134,755 140,772" pathLength="100" stroke="#b8d6ea" stroke-width="3.2" stroke-dasharray="55.0 200" opacity="1.0"/><path d="M120,722 C128,740 134,755 140,772" pathLength="100" stroke="#b8d6ea" stroke-width="3.5" stroke-dasharray="40.0 200" opacity="1.0"/><path d="M120,722 C128,740 134,755 140,772" pathLength="100" stroke="#b8d6ea" stroke-width="3.8" stroke-dasharray="25.0 200" opacity="1.0"/><path d="M120,722 C128,740 134,755 140,772" pathLength="100" stroke="#b8d6ea" stroke-width="4.0" stroke-dasharray="10.0 200" opacity="1.0"/><path d="M160,726 C150,745 140,760 130,772" pathLength="100" stroke="#b8d6ea" stroke-width="2.0" opacity="1.0"/><path d="M160,726 C150,745 140,760 130,772" pathLength="100" stroke="#b8d6ea" stroke-width="2.2" stroke-dasharray="85.0 200" opacity="1.0"/><path d="M160,726 C150,745 140,760 130,772" pathLength="100" stroke="#b8d6ea" stroke-width="2.3" stroke-dasharray="70.0 200" opacity="1.0"/><path d="M160,726 C150,745 140,760 130,772" pathLength="100" stroke="#b8d6ea" stroke-width="2.5" stroke-dasharray="55.0 200" opacity="1.0"/><path d="M160,726 C150,745 140,760 130,772" pathLength="100" stroke="#b8d6ea" stroke-width="2.7" stroke-dasharray="40.0 200" opacity="1.0"/><path d="M160,726 C150,745 140,760 130,772" pathLength="100" stroke="#b8d6ea" stroke-width="2.8" stroke-dasharray="25.0 200" opacity="1.0"/><path d="M160,726 C150,745 140,760 130,772" pathLength="100" stroke="#b8d6ea" stroke-width="3.0" stroke-dasharray="10.0 200" opacity="1.0"/></g><circle cx="307" cy="745" r="17" fill="#b3ded6"/></g>
<path d="M1202,112 C1190,85 1194,48 1216,26 C1238,4 1272,-6 1305,-6 L1410,-6 L1410,240 C1404,246 1398,256 1392,266 C1386,262 1382,250 1380,238 C1376,220 1370,200 1364,180 L1364,112 Z" fill="#d1e8e9" stroke="#b9d8dc" stroke-width="3"/>
<g fill="none" stroke="#b6d6db" stroke-width="2.6" stroke-linecap="round">
  <path d="M1212,62 C1226,44 1246,38 1262,46"/>
  <path d="M1228,22 C1242,32 1252,22 1264,12"/>
  <path d="M1208,92 C1222,80 1240,82 1256,92"/>
  <path d="M1246,62 C1260,56 1268,48 1272,34"/>
  <path d="M1278,8 C1288,24 1298,20 1308,6"/>
  <path d="M1232,100 C1240,92 1250,90 1262,98"/>
  <path d="M1368,128 C1384,138 1396,146 1410,146"/>
  <path d="M1366,170 C1384,176 1396,186 1410,196"/>
  <path d="M1372,210 C1386,214 1398,222 1410,232"/>
  <path d="M1380,240 C1390,236 1400,238 1410,246"/>
</g>
<circle cx="1343" cy="80" r="76" fill="#e4f3ee" stroke="#b3d9d2" stroke-width="5"/>
<path d="M1331,-6 C1330,25 1318,40 1304,55 C1296,66 1298,80 1312,82 C1322,83 1326,79 1332,77 L1344,84 C1350,78 1356,76 1362,82 C1370,86 1381,80 1383,70 C1385,55 1374,35 1367,20 C1364,10 1364,2 1364,-6 Z" fill="#c6e7dc" stroke="#a8d4ca" stroke-width="2.5"/>
<g fill="#e8f5f1" stroke="#a6d2c8" stroke-width="1.8">
  <circle cx="1339" cy="38" r="7"/><circle cx="1319" cy="53" r="7"/><circle cx="1352" cy="59" r="7"/><circle cx="1331" cy="73" r="7"/>
</g>
<g fill="#c6e6dc" stroke="#a9d5cb" stroke-width="1.5">
  <circle cx="1311" cy="83" r="3"/><circle cx="1328" cy="87" r="3"/><circle cx="1354" cy="87" r="3"/>
</g>
<path d="M1291,112 C1290,100 1296,92 1308,92 C1320,93 1332,96 1342,98 C1352,98 1362,96 1370,102 C1376,106 1374,112 1372,112 Z" fill="#c6e7d8" stroke="#a8d4ca" stroke-width="2.5"/>
<g fill="#d2ece3" stroke="#a8d4ca" stroke-width="1.5"><circle cx="1302" cy="94" r="4"/><circle cx="1328" cy="98" r="4"/><circle cx="1352" cy="98" r="4"/></g>

  <!-- table fills -->
  <rect x="44" y="110" width="1320" height="97" fill="#5086b5"/>
  <rect x="44" y="207" width="1320" height="1.6" fill="#a9cfe6"/>
  <rect x="46" y="208.5" width="1316" height="127" fill="#d6f0ee"/>
  <rect x="46" y="337" width="1316" height="126" fill="#fdfefe"/>
  <rect x="46" y="465" width="1316" height="127" fill="#d6f0ee"/>
  <rect x="46" y="594" width="1316" height="127" fill="#fdfefe"/>
  <!-- header col dividers light -->
  <rect x="479.3" y="112" width="2.4" height="96" fill="#9fc7e8"/>
  <rect x="926.3" y="112" width="2.4" height="96" fill="#9fc7e8"/>
  <!-- dark borders -->
  <rect x="44" y="110" width="2" height="613" fill="#16435a"/>
  <rect x="1362" y="110" width="2" height="613" fill="#16435a"/>
  <rect x="44" y="110" width="1320" height="2" fill="#16435a"/>
  <rect x="44" y="721" width="1320" height="2" fill="#16435a"/>
  <rect x="44" y="335" width="1320" height="2" fill="#16435a"/>
  <rect x="44" y="463" width="1320" height="2" fill="#16435a"/>
  <rect x="44" y="592.5" width="1320" height="2" fill="#16435a"/>
  <rect x="479.5" y="208" width="2" height="515" fill="#16435a"/>
  <rect x="926.5" y="208" width="2" height="515" fill="#16435a"/>
  <g fill="none" stroke="#f7fbfe" stroke-width="2" stroke-linecap="round" stroke-linejoin="round">
<rect x="77.5" y="134" width="22" height="7.5" rx="1.5"/>
<path d="M82,141.5 V144 C77,146 75,148 75,152 V179 C75,181 76.5,182.5 78.5,182.5 H93"/>
<path d="M95,141.5 V144 C100,146 102.5,148 102.5,152 V171"/>
<line x1="75" y1="155.5" x2="102.5" y2="155.5"/>
<line x1="75" y1="174" x2="93" y2="174"/>
<line x1="86.5" y1="159" x2="90.5" y2="159"/>
<line x1="83.5" y1="164" x2="94" y2="164"/>
<line x1="86.5" y1="169" x2="90.5" y2="169"/>
<rect x="94.5" y="173.5" width="23.5" height="11.5" rx="5.75"/>
<line x1="106.2" y1="173.5" x2="106.2" y2="185"/>
</g><g fill="none" stroke="#f7fbfe" stroke-width="2" stroke-linecap="round" stroke-linejoin="round">
<path d="M531.2,137 C529,133 523,132.5 520.5,136.5 C515,135 510.5,139.5 512,144.5 C507,147 506,153 509,157 C505.5,161 506,168 511,170 C509.5,175 513,180 518.5,179.5 C520,184.5 527,186.5 531.2,182.5 Z"/>
<path d="M531.2,137 C533.4,133 539.4,132.5 541.9,136.5 C547.4,135 551.9,139.5 550.4,144.5 C555.4,147 556.4,153 553.4,157 C556.9,161 556.4,168 551.4,170 C552.9,175 549.4,180 543.9,179.5 C542.4,184.5 535.4,186.5 531.2,182.5 Z"/>
<line x1="531.2" y1="137" x2="531.2" y2="182.5"/>
<path d="M520.5,136.5 C521,140 522.5,142 524,143"/>
<path d="M526.5,146.5 L529,145"/>
<path d="M518,150 C519,154 521,157 523,158.5"/>
<path d="M509,157 C512,158 514,157.5 516,156.5"/>
<path d="M523,161 L530,157"/>
<path d="M511,170 C513,169 515,168 517,166.5"/>
<path d="M520,172 C523,170 526,168.5 528,168"/>
<path d="M518.5,179.5 C519,176 522,175 525,177"/>
<path d="M539,143.5 L551,139"/>
<circle cx="554.3" cy="136.8" r="2.8"/>
<path d="M541,145 L539,150"/>
<circle cx="538.7" cy="151.5" r="2.4"/>
<circle cx="536.7" cy="161.3" r="2.4"/>
<circle cx="537.9" cy="172" r="2.4"/>
<path d="M543,164 L548,171"/>
<path d="M546,158 C548,157.5 550,156 551,154"/>
<path d="M543.9,179.5 C546,178 548,176.5 548.5,174"/>
</g><path d="M989.64,155.07 L991.95,154.34 L992.55,150.77 L997.45,150.77 L998.05,154.34 L1000.36,155.07 L1000.36,155.07 L1002.50,156.18 L1005.45,154.09 L1008.91,157.55 L1006.82,160.50 L1007.93,162.64 L1007.93,162.64 L1008.66,164.95 L1012.23,165.55 L1012.23,170.45 L1008.66,171.05 L1007.93,173.36 L1007.93,173.36 L1006.82,175.50 L1008.91,178.45 L1005.45,181.91 L1002.50,179.82 L1000.36,180.93 L1000.36,180.93 L998.05,181.66 L997.45,185.23 L992.55,185.23 L991.95,181.66 L989.64,180.93 L989.64,180.93 L987.50,179.82 L984.55,181.91 L981.09,178.45 L983.18,175.50 L982.07,173.36 L982.07,173.36 L981.34,171.05 L977.77,170.45 L977.77,165.55 L981.34,164.95 L982.07,162.64 L982.07,162.64 L983.18,160.50 L981.09,157.55 L984.55,154.09 L987.50,156.18 L989.64,155.07 Z" fill="none" stroke="#f7fbfe" stroke-width="2" stroke-linejoin="round"/><circle cx="995" cy="168" r="7.2" fill="none" stroke="#f7fbfe" stroke-width="2"/><path d="M1014.10,137.32 L1015.65,136.83 L1015.98,133.92 L1019.42,133.92 L1019.75,136.83 L1021.30,137.32 L1021.30,137.32 L1022.74,138.06 L1025.03,136.24 L1027.46,138.67 L1025.64,140.96 L1026.38,142.40 L1026.38,142.40 L1026.87,143.95 L1029.78,144.28 L1029.78,147.72 L1026.87,148.05 L1026.38,149.60 L1026.38,149.60 L1025.64,151.04 L1027.46,153.33 L1025.03,155.76 L1022.74,153.94 L1021.30,154.68 L1021.30,154.68 L1019.75,155.17 L1019.42,158.08 L1015.98,158.08 L1015.65,155.17 L1014.10,154.68 L1014.10,154.68 L1012.66,153.94 L1010.37,155.76 L1007.94,153.33 L1009.76,151.04 L1009.02,149.60 L1009.02,149.60 L1008.53,148.05 L1005.62,147.72 L1005.62,144.28 L1008.53,143.95 L1009.02,142.40 L1009.02,142.40 L1009.76,140.96 L1007.94,138.67 L1010.37,136.24 L1012.66,138.06 L1014.10,137.32 Z" fill="none" stroke="#f7fbfe" stroke-width="2" stroke-linejoin="round"/><circle cx="1017.7" cy="146" r="4.8" fill="none" stroke="#f7fbfe" stroke-width="2"/><g transform="translate(115.6 271.7) rotate(-45)">
  <rect x="-37" y="-17.5" width="74" height="35" rx="17.5" fill="#ffffff" fill-opacity="0.45"/>
  <path d="M0,-17.5 H-19.5 A17.5,17.5 0 0 0 -19.5,17.5 H0 Z" fill="#4787c4"/>
  <rect x="-34.75" y="-15.25" width="69.5" height="30.5" rx="15.25" fill="none" stroke="#4787c4" stroke-width="4.5"/>
  <line x1="0" y1="-16" x2="0" y2="16" stroke="#4787c4" stroke-width="2"/>
  <line x1="-24.5" y1="-9.5" x2="-4" y2="-9.5" stroke="#ffffff" stroke-opacity="0.9" stroke-width="3.4" stroke-linecap="round"/>
</g><g transform="translate(115.8 400.5) rotate(-45)">
  <rect x="-37" y="-17.5" width="74" height="35" rx="17.5" fill="#ffffff" fill-opacity="0.45"/>
  <path d="M0,-17.5 H-19.5 A17.5,17.5 0 0 0 -19.5,17.5 H0 Z" fill="#51aa75"/>
  <rect x="-34.75" y="-15.25" width="69.5" height="30.5" rx="15.25" fill="none" stroke="#51aa75" stroke-width="4.5"/>
  <line x1="0" y1="-16" x2="0" y2="16" stroke="#51aa75" stroke-width="2"/>
  <line x1="-24.5" y1="-9.5" x2="-4" y2="-9.5" stroke="#ffffff" stroke-opacity="0.9" stroke-width="3.4" stroke-linecap="round"/>
</g><g transform="translate(115.8 528.7) rotate(-45)">
  <rect x="-37" y="-17.5" width="74" height="35" rx="17.5" fill="#ffffff" fill-opacity="0.45"/>
  <path d="M0,-17.5 H-19.5 A17.5,17.5 0 0 0 -19.5,17.5 H0 Z" fill="#8c4aa5"/>
  <rect x="-34.75" y="-15.25" width="69.5" height="30.5" rx="15.25" fill="none" stroke="#8c4aa5" stroke-width="4.5"/>
  <line x1="0" y1="-16" x2="0" y2="16" stroke="#8c4aa5" stroke-width="2"/>
  <line x1="-24.5" y1="-9.5" x2="-4" y2="-9.5" stroke="#ffffff" stroke-opacity="0.9" stroke-width="3.4" stroke-linecap="round"/>
</g><g transform="translate(115.8 657.6) rotate(-45)">
  <rect x="-37" y="-17.5" width="74" height="35" rx="17.5" fill="#ffffff" fill-opacity="0.45"/>
  <path d="M0,-17.5 H-19.5 A17.5,17.5 0 0 0 -19.5,17.5 H0 Z" fill="#e05a43"/>
  <rect x="-34.75" y="-15.25" width="69.5" height="30.5" rx="15.25" fill="none" stroke="#e05a43" stroke-width="4.5"/>
  <line x1="0" y1="-16" x2="0" y2="16" stroke="#e05a43" stroke-width="2"/>
  <line x1="-24.5" y1="-9.5" x2="-4" y2="-9.5" stroke="#ffffff" stroke-opacity="0.9" stroke-width="3.4" stroke-linecap="round"/>
</g><circle cx="575.4" cy="271.7" r="35.3" fill="#e2f5f6"/><circle cx="575.4" cy="271.7" r="38.9" fill="none" stroke="#1ca6dd" stroke-width="7.2"/><circle cx="575.4" cy="271.7" r="29.299999999999997" fill="#1ca6dd"/><circle cx="559" cy="400.3" r="34.7" fill="#ffffff"/><circle cx="637.4" cy="400.2" r="34.7" fill="#ffffff"/><path d="M597.88,401.66 A38.9,38.9 0 1 1 591.25,378.55" fill="none" stroke="#1ca6dd" stroke-width="7" stroke-linecap="round"/><path d="M598.50,400.20 A38.9,38.9 0 1 1 605.15,421.95" fill="none" stroke="#f2932f" stroke-width="7" stroke-linecap="round"/><circle cx="558.3" cy="400.4" r="29" fill="#1ca6dd"/><circle cx="637.5" cy="400.4" r="29" fill="#f2932f"/><circle cx="558.5" cy="528.6" r="35" fill="#e3f4f3"/><circle cx="558.5" cy="528.6" r="38.5" fill="none" stroke="#1ca6dd" stroke-width="7"/><circle cx="558.5" cy="528.6" r="29" fill="#1ca6dd"/><circle cx="637.8" cy="528.6" r="42.2" fill="#b2b03e"/><path d="M621.75,500.80 A32.1,32.1 0 1 1 621.75,556.40" fill="none" stroke="#e3f4f3" stroke-width="6.2"/><circle cx="604" cy="502" r="22.1" fill="#f1e9dc"/><circle cx="604" cy="502" r="24.2" fill="none" stroke="#f2932f" stroke-width="4.2"/><circle cx="604" cy="502" r="18.5" fill="#f2932f"/><circle cx="603.2" cy="555.9" r="21.6" fill="#eef0dc"/><circle cx="603.2" cy="555.9" r="23.8" fill="none" stroke="#b2b03e" stroke-width="4.4"/><circle cx="603.2" cy="555.9" r="18.3" fill="#b2b03e"/><circle cx="619.8" cy="657.6" r="35.599999999999994" fill="#ffffff"/><circle cx="619.8" cy="657.6" r="38.699999999999996" fill="none" stroke="#8b4b9b" stroke-width="6.2"/><circle cx="619.8" cy="657.6" r="28.999999999999993" fill="#8b4b9b"/>
</svg>
<div class="t" style="left:138.09px;top:28.47px;font-size:52px;font-weight:bold;color:#0b0b0c;transform:scaleX(0.9207);">Classes d’antidépresseurs : Mécanismes d’action</div><div class="t" style="left:133.49px;top:145.02px;font-size:29.5px;font-weight:bold;color:#fbfdff;transform:scaleX(0.9431);">Classe d’antidépresseur</div><div class="t" style="left:571.65px;top:144.82px;font-size:29.5px;font-weight:bold;color:#fbfdff;transform:scaleX(0.9634);">Neurotransmetteur ciblé</div><div class="t" style="left:1043.87px;top:144.22px;font-size:29.5px;font-weight:bold;color:#fbfdff;transform:scaleX(0.9553);">Mécanisme d’action</div><div class="t" style="left:189.01px;top:254.22px;font-size:36px;font-weight:normal;color:#111314;transform:scaleX(0.9238);">ISRS</div><div class="t" style="left:189.65px;top:382.32px;font-size:36px;font-weight:normal;color:#111314;transform:scaleX(0.9406);">IRSN</div><div class="t" style="left:188.86px;top:511.02px;font-size:36px;font-weight:normal;color:#111314;transform:scaleX(0.9986);">IMAO</div><div class="t" style="left:189.18px;top:639.52px;font-size:36px;font-weight:normal;color:#111314;transform:scaleX(1.0136);">Kétamine</div><div class="t" style="left:632.47px;top:257.69px;font-size:28px;font-weight:bold;color:#1ca6dd;transform:scaleX(0.9914);">Sérotonine</div><div class="t" style="left:785.68px;top:257.69px;font-size:28px;font-weight:normal;color:#1ca6dd;transform:scaleX(1.0850);-webkit-text-stroke:0.5px currentColor;">(5-HT)</div><div class="t" style="left:694.57px;top:369.59px;font-size:28px;font-weight:bold;color:#1ca6dd;transform:scaleX(0.9921);">Sérotonine</div><div class="t" style="left:694.35px;top:402.69px;font-size:28px;font-weight:bold;color:#f2932f;transform:scaleX(1.0173);">Noradrénaline</div><div class="t" style="left:693.56px;top:499.09px;font-size:28px;font-weight:bold;color:#b2b03e;transform:scaleX(1.0117);">Monoamines</div><div class="t" style="left:694.50px;top:531.59px;font-size:28px;font-weight:normal;color:#b2b03e;transform:scaleX(1.0133);-webkit-text-stroke:0.5px currentColor;">(5-HT, DA, NE)</div><div class="t" style="left:675.84px;top:642.99px;font-size:28px;font-weight:bold;color:#8b4b9b;transform:scaleX(1.0384);">Glutamate</div><div class="t" style="left:981.02px;top:241.45px;font-size:29px;font-weight:normal;color:#111314;transform:scaleX(1.0264);">Inhibition de la recapture</div><div class="t" style="left:1039.63px;top:273.05px;font-size:29px;font-weight:normal;color:#111314;transform:scaleX(1.0114);">de la sérotonine</div><div class="t" style="left:980.42px;top:368.95px;font-size:29px;font-weight:normal;color:#111314;transform:scaleX(1.0251);">Inhibition de la recapture</div><div class="t" style="left:997.03px;top:400.95px;font-size:29px;font-weight:normal;color:#111314;transform:scaleX(1.0056);">des deux monoamines</div><div class="t" style="left:974.62px;top:497.45px;font-size:29px;font-weight:normal;color:#111314;transform:scaleX(1.0279);">Inhibition du métabolisme</div><div class="t" style="left:944.63px;top:530.05px;font-size:29px;font-weight:normal;color:#111314;transform:scaleX(1.0125);">enzymatique des monoamines</div><div class="t" style="left:965.60px;top:626.05px;font-size:29px;font-weight:normal;color:#111314;transform:scaleX(1.0123);">Antagoniste des récepteurs</div><div class="t" style="left:1001.62px;top:658.05px;font-size:29px;font-weight:normal;color:#111314;transform:scaleX(1.0240);">NMDA (action rapide)</div><div class="t" style="left:964.62px;top:737.16px;font-size:18px;font-weight:normal;color:#2a5672;transform:scaleX(0.9570);">Source : données issues de la littérature scientifique</div><div class="t" style="left:550.10px;top:262.22px;font-size:21px;font-weight:normal;color:#f6fbff;transform:scaleX(1.0670);-webkit-text-stroke:0.9px currentColor;">5-HT</div><div class="t" style="left:533.11px;top:390.22px;font-size:21px;font-weight:normal;color:#f6fbff;transform:scaleX(1.0648);-webkit-text-stroke:0.9px currentColor;">5-HT</div><div class="t" style="left:620.80px;top:390.22px;font-size:21px;font-weight:normal;color:#f6fbff;transform:scaleX(1.0728);-webkit-text-stroke:0.9px currentColor;">NA</div><div class="t" style="left:533.10px;top:519.04px;font-size:20.5px;font-weight:normal;color:#f6fbff;transform:scaleX(1.0976);-webkit-text-stroke:0.9px currentColor;">5-HT</div><div class="t" style="left:622.18px;top:519.89px;font-size:19.5px;font-weight:normal;color:#f7f5df;transform:scaleX(1.1042);-webkit-text-stroke:0.9px currentColor;">DA</div><div class="t" style="left:592.11px;top:493.95px;font-size:16px;font-weight:normal;color:#f6fbff;transform:scaleX(1.0054);-webkit-text-stroke:0.9px currentColor;">NE</div><div class="t" style="left:591.36px;top:548.32px;font-size:14.5px;font-weight:normal;color:#f7f5df;transform:scaleX(1.1521);-webkit-text-stroke:0.9px currentColor;">DA</div><div class="t" style="left:599.02px;top:648.17px;font-size:20px;font-weight:normal;color:#f6fbff;transform:scaleX(0.9845);-webkit-text-stroke:0.9px currentColor;">GLU</div>
</body></html>
